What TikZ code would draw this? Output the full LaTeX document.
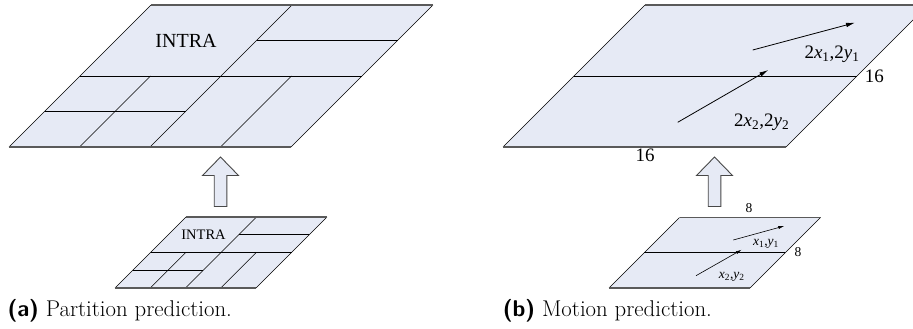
\documentclass[tikz,border=0pt]{standalone}
\usepackage{fontspec}
\newfontfamily\tnr{Liberation Serif}
\usetikzlibrary{arrows.meta}
\definecolor{pfill}{RGB}{230,234,245}
\definecolor{edgegray}{RGB}{90,90,90}
\newcommand{\biglbl}{\tnr\fontsize{19}{21}\selectfont}
\newcommand{\smllbl}{\tnr\fontsize{13.5}{15}\selectfont}
\tikzset{
 plane/.style={fill=pfill,draw=none},
 rimline/.style={draw=edgegray,line width=1.6pt},
 srimline/.style={draw=edgegray,line width=1.3pt},
 slant/.style={draw=black,line width=0.6pt},
 gridline/.style={draw=black,line width=0.8pt},
 bigarrow/.style={fill=pfill,draw=edgegray!80!black,line width=0.9pt,line join=miter},
 mv/.style={draw=black,line width=0.8pt,-{Latex[length=9pt,width=4.5pt]}},
 mvsmall/.style={draw=black,line width=0.6pt,-{Latex[length=6pt,width=3pt]}},
 lbl/.style={inner sep=0pt},
 intrabig/.style={inner sep=0pt,font=\tnr\fontsize{20}{22}\selectfont},
 intrasmall/.style={inner sep=0pt,font=\tnr\fontsize{14.5}{16}\selectfont},
 captext/.style={inner sep=0pt,anchor=base west,font=\fontsize{22.8}{26}\selectfont},
}
\begin{document}
\begin{tikzpicture}[x=1pt,y=-1pt]
\useasboundingbox (0,0) rectangle (913,329);
\clip (0,0) rectangle (913,329);

% ---------- (a) large partition plane
\begin{scope}[shift={(9,147)},x={(70.5pt,0pt)},y={(35.5pt,35.5pt)}]
 \fill[plane] (0,0) -- (4,0) -- (4,4) -- (0,4) -- cycle;
 \draw[slant] (0,0)--(0,4) (4,0)--(4,4) (1,0)--(1,2) (2,0)--(2,4) (3,0)--(3,2);
 \draw[gridline] (0,2)--(4,2) (0,1)--(2,1) (2,3)--(4,3);
 \draw[rimline] (0,0)--(4,0) (0,4)--(4,4);
 \node[intrabig] (intraA) at (1,3) {INTRA};
\end{scope}

% ---------- (a) small partition plane
\begin{scope}[shift={(115,288)},x={(35.25pt,0pt)},y={(17.75pt,17.75pt)}]
 \fill[plane] (0,0) -- (4,0) -- (4,4) -- (0,4) -- cycle;
 \draw[slant] (0,0)--(0,4) (4,0)--(4,4) (1,0)--(1,2) (2,0)--(2,4) (3,0)--(3,2);
 \draw[gridline] (0,2)--(4,2) (0,1)--(2,1) (2,3)--(4,3);
 \draw[srimline] (0,0)--(4,0) (0,4)--(4,4);
 \node[intrasmall] (intraB) at (1,3) {INTRA};
\end{scope}

% ---------- (b) large motion plane
\begin{scope}[shift={(503,147)},x={(70.75pt,0pt)},y={(35.5pt,35.5pt)}]
 \fill[plane] (0,0) -- (4,0) -- (4,4) -- (0,4) -- cycle;
 \draw[slant] (0,0)--(0,4) (4,0)--(4,4);
 \draw[gridline] (0,2)--(4,2);
 \draw[rimline] (0,0)--(4,0) (0,4)--(4,4);
\end{scope}

% ---------- (b) small motion plane
\begin{scope}[shift={(609,288)},x={(35.25pt,0pt)},y={(17.63pt,17.63pt)}]
 \fill[plane] (0,0) -- (4,0) -- (4,4) -- (0,4) -- cycle;
 \draw[slant] (0,0)--(0,4) (4,0)--(4,4);
 \draw[gridline] (0,2)--(4,2);
 \draw[srimline] (0,0)--(4,0) (0,4)--(4,4);
\end{scope}

% ---------- hollow up arrows
\draw[bigarrow] (220.5,157) -- (238.5,175.5) -- (226.8,175.5) -- (226.8,206.5)
  -- (214.2,206.5) -- (214.2,175.5) -- (202.5,175.5) -- cycle;
\draw[bigarrow] (714.5,157) -- (732.5,175.5) -- (720.8,175.5) -- (720.8,206.5)
  -- (708.2,206.5) -- (708.2,175.5) -- (696.5,175.5) -- cycle;

% ---------- motion vectors
\coordinate (m1s) at (752.7,50);   \coordinate (m1e) at (855,22.7);
\coordinate (m2s) at (677.7,122.3); \coordinate (m2e) at (768.3,70);
\coordinate (n1s) at (733.3,240);  \coordinate (n1e) at (784.3,226);
\coordinate (n2s) at (696,275.7);  \coordinate (n2e) at (741.7,249.7);
\draw[mv] (m1s) -- (m1e);
\draw[mv] (m2s) -- (m2e);
\draw[mvsmall] (n1s) -- (n1e);
\draw[mvsmall] (n2s) -- (n2e);

% ---------- labels
\node[lbl] (v1) at (832,54) {\biglbl 2\textit{x}\textsubscript{1},2\textit{y}\textsubscript{1}};
\node[lbl] (v2) at (761.7,122.7) {\biglbl 2\textit{x}\textsubscript{2},2\textit{y}\textsubscript{2}};
\node[lbl] (s16a) at (874.3,76.3) {\biglbl 16};
\node[lbl] (s16b) at (645,155.7) {\biglbl 16};
\node[lbl] (w1) at (766,244) {\smllbl \textit{x}\textsubscript{1},\textit{y}\textsubscript{1}};
\node[lbl] (w2) at (731.7,277) {\smllbl \textit{x}\textsubscript{2},\textit{y}\textsubscript{2}};
\node[lbl] (s8a) at (749,208) {\smllbl 8};
\node[lbl] (s8b) at (798,252) {\smllbl 8};

% ---------- captions
\node[captext] (capa) at (7.3,316) {{\sffamily\bfseries (a)} Partition prediction.};
\node[captext] (capb) at (502.7,316.5) {{\sffamily\bfseries (b)} Motion prediction.};
\end{tikzpicture}
\end{document}
